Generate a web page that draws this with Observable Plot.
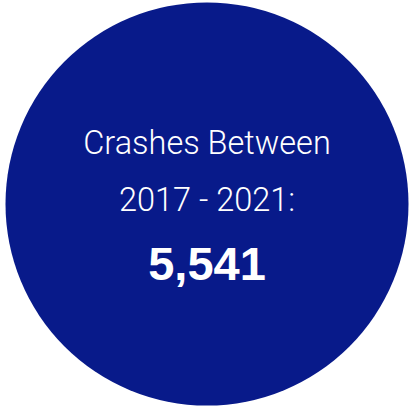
<!DOCTYPE html>
<html>
<head>
<meta charset="utf-8">
<script src="https://cdn.jsdelivr.net/npm/d3@7"></script>
<script src="https://cdn.jsdelivr.net/npm/@observablehq/plot@0.6"></script>
<style>
  html, body { margin: 0; padding: 0; background: #ffffff; }
  #chart svg { display: block; }
</style>
</head>
<body>
<div id="chart"></div>
<script>
// Data
const labelLines = ["Crashes Between", "2017 - 2021:"];
const totalCrashes = [5541];
const circleColor = "#081a8a";

const W = 409, H = 406;
const cx = 206.5, cy = 203.5, R = 201.5;

const fmt = d3.format(",");
const lineY = [142.8, 199.8];

const chart = Plot.plot({
  width: W,
  height: H,
  margin: 0,
  x: {domain: [0, W], range: [0, W], axis: null},
  y: {domain: [0, H], range: [0, H], axis: null},
  style: {background: "transparent"},
  marks: [
    Plot.dot(totalCrashes, {x: () => cx, y: () => cy, r: R, fill: circleColor, stroke: null}),
    Plot.text(labelLines, {
      x: () => cx, y: (d, i) => lineY[i], text: d => d,
      fill: "white", fontSize: 32.5, fontWeight: 300,
      fontFamily: "Roboto, 'Liberation Sans', sans-serif",
      textAnchor: "middle", lineAnchor: "middle"
    }),
    Plot.text(totalCrashes, {
      x: () => cx, y: () => 264, text: d => fmt(d),
      fill: "white", fontSize: 47, fontWeight: "bold",
      fontFamily: "'Liberation Sans', Arial, sans-serif",
      textAnchor: "middle", lineAnchor: "middle"
    })
  ]
});
document.getElementById("chart").appendChild(chart);
</script>
</body>
</html>
